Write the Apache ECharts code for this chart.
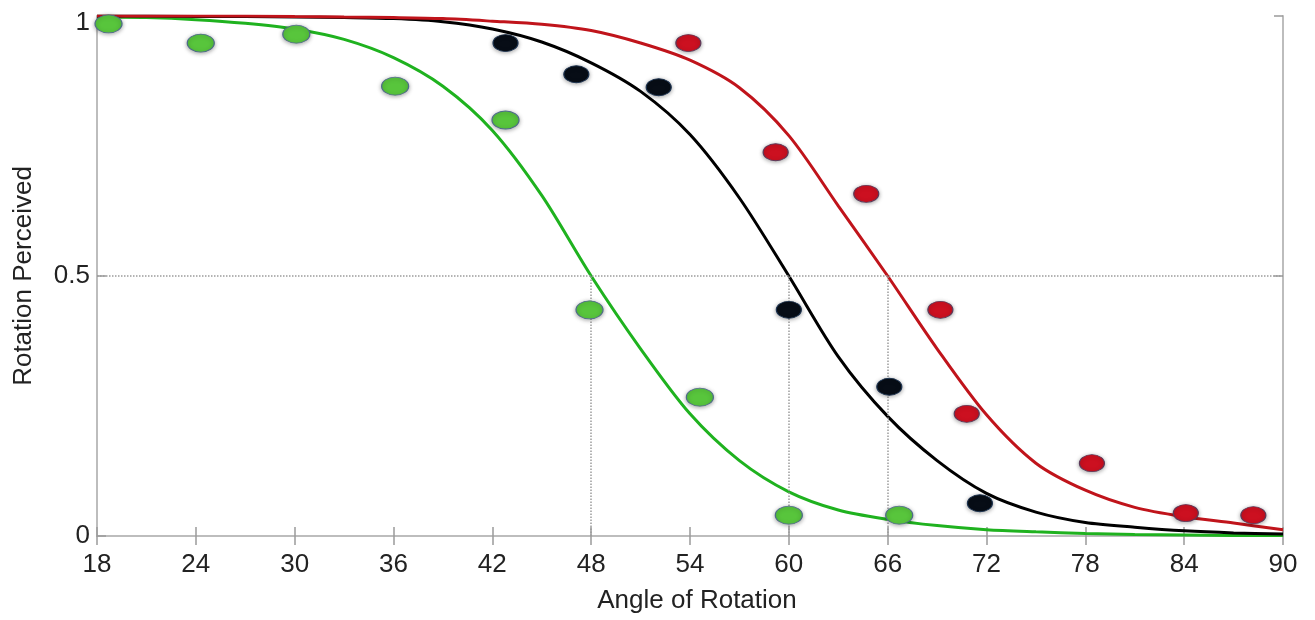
<!DOCTYPE html>
<html>
<head>
<meta charset="utf-8">
<script src="https://cdn.jsdelivr.net/npm/echarts@6/dist/echarts.min.js"></script>
<style>
  html, body { margin: 0; padding: 0; background: #fff; }
  #chart { width: 1315px; height: 620px; }
</style>
</head>
<body>
<div id="chart"></div>
<script>
var angleSamples = [18, 21, 24, 27, 30, 33, 36, 39, 42, 45, 48, 51, 54, 57, 60, 63, 66, 69, 72, 75, 78, 81, 84, 87, 90];
var greenFit = [0.998, 0.997, 0.993, 0.986, 0.975, 0.955, 0.92, 0.865, 0.78, 0.655, 0.50, 0.36, 0.235, 0.145, 0.085, 0.05, 0.032, 0.02, 0.012, 0.008, 0.005, 0.003, 0.002, 0.001, 0.001];
var blackFit = [1.0, 1.0, 0.999, 0.999, 0.998, 0.997, 0.995, 0.989, 0.975, 0.95, 0.91, 0.855, 0.772, 0.65, 0.50, 0.345, 0.23, 0.145, 0.082, 0.046, 0.026, 0.017, 0.01, 0.006, 0.004];
var redFit = [1.0, 1.0, 1.0, 1.0, 0.999, 0.998, 0.997, 0.995, 0.99, 0.984, 0.972, 0.948, 0.915, 0.862, 0.77, 0.635, 0.50, 0.36, 0.233, 0.14, 0.088, 0.055, 0.037, 0.025, 0.012];

// measured points
var greenX = [18.7, 24.3, 30.1, 36.1, 42.8, 47.9, 54.6, 60.0, 66.7];
var greenY = [0.985, 0.948, 0.965, 0.865, 0.80, 0.435, 0.267, 0.04, 0.04];
var blackX = [42.8, 47.1, 52.1, 60.0, 66.1, 71.6];
var blackY = [0.948, 0.888, 0.863, 0.435, 0.287, 0.063];
var redX = [53.9, 59.2, 64.7, 69.2, 70.8, 78.4, 84.1, 88.2];
var redY = [0.948, 0.738, 0.658, 0.435, 0.235, 0.14, 0.044, 0.04];

// 50% thresholds
var halfLevel = 0.5;
var thresholds = [48, 60, 66];

function pairs(xs, ys) {
    var out = [];
    for (var i = 0; i < xs.length; i++) {
        out.push([xs[i], ys[i]]);
    }
    return out;
}

var FONT = '"Liberation Sans", Arial, sans-serif';
var TEXT = '#222';
var FRAME = '#bdbdbd';

var refLines = [{ yAxis: halfLevel }];
for (var i = 0; i < thresholds.length; i++) {
    refLines.push([{ coord: [thresholds[i], 0] }, { coord: [thresholds[i], halfLevel] }]);
}

function fitSeries(name, values, color) {
    return {
        name: name,
        type: 'line',
        data: pairs(angleSamples, values),
        smooth: 0.3,
        showSymbol: false,
        silent: true,
        z: 3,
        lineStyle: { color: color, width: 3 }
    };
}

function pointSeries(name, xs, ys, fill, border, size) {
    return {
        name: name,
        type: 'scatter',
        data: pairs(xs, ys),
        symbol: 'circle',
        symbolSize: size,
        z: 5,
        itemStyle: {
            color: fill,
            opacity: 1,
            borderColor: border,
            borderWidth: 1,
            shadowBlur: 4,
            shadowColor: 'rgba(0,0,0,0.35)',
            shadowOffsetY: 1
        }
    };
}

var axisCommon = {
    type: 'value',
    splitLine: { show: false },
    axisLine: { show: true, lineStyle: { color: FRAME, width: 2 } },
    axisTick: { show: true, inside: true, length: 9, lineStyle: { color: '#9a9a9a', width: 1.5 } }
};

var option = {
    backgroundColor: '#fff',
    animation: false,
    grid: { left: 97, right: 32, top: 16, bottom: 84 },
    xAxis: [
        Object.assign({}, axisCommon, {
            min: 18, max: 90, interval: 6,
            position: 'bottom',
            name: 'Angle of Rotation',
            nameLocation: 'middle',
            nameGap: 52,
            nameTextStyle: { fontFamily: FONT, fontSize: 26, color: TEXT, padding: [0, 0, 0, 14] },
            axisLabel: { fontFamily: FONT, fontSize: 26, color: TEXT, margin: 16 }
        }),
        Object.assign({}, axisCommon, {
            min: 18, max: 90, interval: 6,
            position: 'top',
            axisLabel: { show: false }
        })
    ],
    yAxis: [
        Object.assign({}, axisCommon, {
            min: 0, max: 1, interval: 0.5,
            position: 'left',
            name: 'Rotation Perceived',
            nameLocation: 'middle',
            nameGap: 60,
            nameTextStyle: { fontFamily: FONT, fontSize: 26, color: TEXT },
            axisLabel: {
                fontFamily: FONT, fontSize: 26, color: TEXT, margin: 7,
                formatter: function (v) {
                    return v === 1 ? '{hi|1}' : String(v);
                },
                rich: {
                    hi: { fontFamily: FONT, fontSize: 26, color: TEXT, padding: [14, 0, 0, 0] }
                }
            }
        }),
        Object.assign({}, axisCommon, {
            min: 0, max: 1, interval: 0.5,
            position: 'right',
            axisLabel: { show: false }
        })
    ],
    series: [
        {
            name: 'ref',
            type: 'line',
            data: [],
            silent: true,
            markLine: {
                silent: true,
                symbol: 'none',
                label: { show: false },
                lineStyle: { color: '#9c9c9c', type: 'dotted', width: 1.5 },
                data: refLines
            }
        },
        fitSeries('greenFit', greenFit, '#1fb21f'),
        fitSeries('blackFit', blackFit, '#000000'),
        fitSeries('redFit', redFit, '#c0141b'),
        pointSeries('green', greenX, greenY, '#58c53c', '#4d6a8a', [27, 18]),
        pointSeries('black', blackX, blackY, '#070d16', '#1d3350', [25, 17]),
        pointSeries('red', redX, redY, '#cc1020', '#5a3a5a', [25, 17])
    ]
};

var myChart = echarts.init(document.getElementById('chart'));
myChart.setOption(option);
</script>
</body>
</html>
